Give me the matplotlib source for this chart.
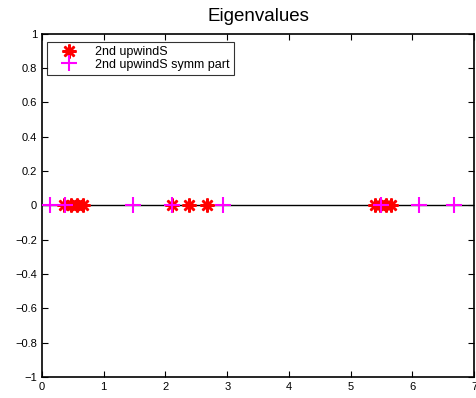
import numpy as np
import matplotlib
matplotlib.use('Agg')
import matplotlib.pyplot as plt

# eigenvalues (real parts) of the upwind operator and its symmetric part
eig_upwind = [0.36, 0.47, 0.57, 0.67, 2.11, 2.38, 2.67, 5.40, 5.48, 5.57, 5.66]
eig_symm = [0.13, 0.38, 1.47, 2.11, 2.93, 5.49, 6.10, 6.67]
labels = ['2nd upwindS', '2nd upwindS symm part']

yticks = [-1, -0.8, -0.6, -0.4, -0.2, 0, 0.2, 0.4, 0.6, 0.8, 1]
xticks = [0, 1, 2, 3, 4, 5, 6, 7]

plt.rcParams['font.family'] = ['Liberation Sans', 'DejaVu Sans']
fig = plt.figure(figsize=(4.77, 3.98), dpi=100)
ax = fig.add_axes([0.088, 0.053, 0.906, 0.862])

ax.axhline(0, color='k', lw=1.0, zorder=1)
ax.plot(eig_upwind, np.zeros(len(eig_upwind)), ls='none', marker=(8, 2, 0),
        ms=10, mew=1.8, color='red', label=labels[0], zorder=3)
ax.plot(eig_symm, np.zeros(len(eig_symm)), ls='none', marker='+',
        ms=12, mew=1.5, color='magenta', label=labels[1], zorder=4)

ax.set_xlim(0, 7)
ax.set_ylim(-1, 1)
ax.set_xticks(xticks)
ax.set_xticklabels([str(t) for t in xticks])
ax.set_yticks(yticks)
ax.set_yticklabels([('%g' % t).replace('-', '\u2212') for t in yticks])
ax.tick_params(direction='in', top=True, right=True, labelsize=8, length=4, width=0.8)
for s in ax.spines.values():
    s.set_linewidth(1.2)

ax.set_title('Eigenvalues', fontsize=13.5, pad=9)

leg = ax.legend(loc='upper left', bbox_to_anchor=(0.012, 0.977), borderaxespad=0,
                fontsize=9, frameon=True, fancybox=False, edgecolor='k',
                borderpad=0.35, handlelength=2.8, handletextpad=0.7,
                labelspacing=0.05)
leg.get_frame().set_linewidth(0.8)

fig.savefig('out.png', dpi=100)
